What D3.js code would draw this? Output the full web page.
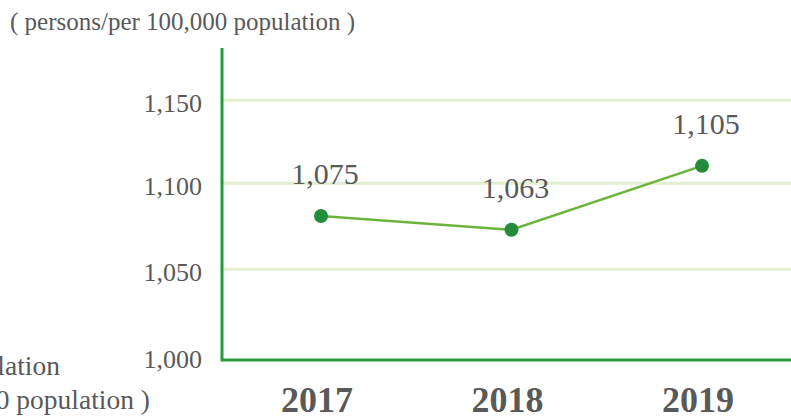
<!DOCTYPE html>
<html>
<head>
<meta charset="utf-8">
<script src="https://cdn.jsdelivr.net/npm/d3@7/dist/d3.min.js"></script>
<style>
  html, body { margin: 0; padding: 0; background: #ffffff; }
  svg { display: block; }
  text { font-family: "Liberation Serif", "Times New Roman", serif; fill: #595959; }
</style>
</head>
<body>
<svg id="chart" width="791" height="418"></svg>
<script>
// ---- data ----
const years = ["2017", "2018", "2019"];
const labelValues = [1075, 1063, 1105];          // annotated values
const plottedValues = [1081, 1073, 1110.5];      // where the markers sit in the picture
const yTicks = [1000, 1050, 1100, 1150];
const yTitle = "( persons/per 100,000 population )";
const leftClip1 = "Population";
const leftClip2 = "( persons/per 100,000 population )";

const svg = d3.select("#chart");
const W = 791, H = 418;
const fmt = d3.format(",");

const axisX = 222, axisBottom = 360, axisTop = 48;

const x = d3.scalePoint().domain(years).range([321, 702]);
const y = d3.scaleLinear().domain(yTicks).range([360, 269.3, 183.3, 100.3]);

// gridlines
svg.append("g").selectAll("line").data(yTicks.slice(1)).join("line")
  .attr("x1", axisX).attr("x2", W)
  .attr("y1", d => y(d)).attr("y2", d => y(d))
  .attr("stroke", "#e2efd0").attr("stroke-width", 3);

// y tick labels
svg.append("g").selectAll("text").data(yTicks).join("text")
  .attr("x", 202).attr("y", d => y(d))
  .attr("dy", (d, i) => i === 0 ? "0.3em" : "0.45em")
  .attr("text-anchor", "end")
  .attr("font-size", 26)
  .text(d => fmt(d));

// axes lines
svg.append("path")
  .attr("d", d3.line()([[axisX, axisTop], [axisX, axisBottom], [W, axisBottom]]))
  .attr("fill", "none").attr("stroke", "#2a9a3e").attr("stroke-width", 3);

// x labels
svg.append("g").selectAll("text").data(years).join("text")
  .attr("x", d => x(d) - 4).attr("y", 412)
  .attr("text-anchor", "middle")
  .attr("font-size", 36).attr("font-weight", "bold")
  .text(d => d);

// line
svg.append("path")
  .datum(years.map((d, i) => [x(d), y(plottedValues[i])]))
  .attr("d", d3.line())
  .attr("fill", "none").attr("stroke", "#6cb33c").attr("stroke-width", 2.5);

// points
svg.append("g").selectAll("circle").data(years).join("circle")
  .attr("cx", d => x(d)).attr("cy", (d, i) => y(plottedValues[i]))
  .attr("r", 7).attr("fill", "#248b3b");

// data labels
svg.append("g").selectAll("text").data(years).join("text")
  .attr("x", d => x(d) + 4).attr("y", (d, i) => y(plottedValues[i]) - 32)
  .attr("text-anchor", "middle")
  .attr("font-size", 30)
  .text((d, i) => fmt(labelValues[i]));

// title
svg.append("text").attr("x", 10).attr("y", 30).attr("font-size", 25).text(yTitle);

// clipped texts on the left
svg.append("text").attr("x", 60).attr("y", 375).attr("text-anchor", "end").attr("font-size", 27.5).text(leftClip1);
svg.append("text").attr("x", 150).attr("y", 409).attr("text-anchor", "end").attr("font-size", 27.5).text(leftClip2);
</script>
</body>
</html>
